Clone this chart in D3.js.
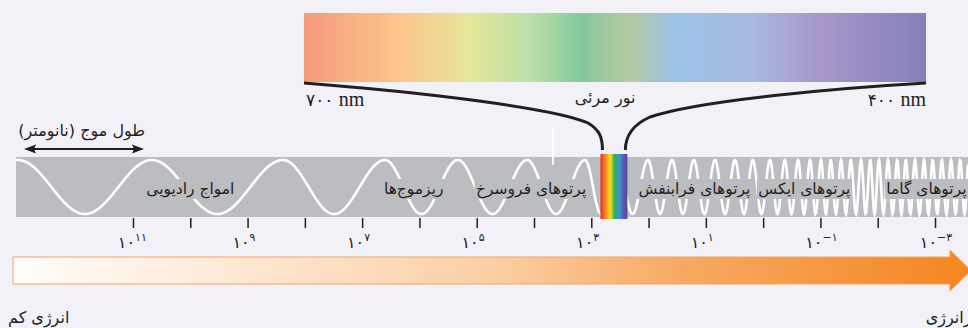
<!DOCTYPE html>
<html>
<head>
<meta charset="utf-8">
<script src="https://cdn.jsdelivr.net/npm/d3@7"></script>
<style>
  body { margin: 0; background: #f2f1f7; }
  svg { display: block; }
  text { font-family: "DejaVu Sans", sans-serif; fill: #231f20; }
</style>
</head>
<body>
<script>
const width = 968,
    height = 328;

// wavelength axis, nm (log scale, one tick per decade)
const domainNm = [1e11, 1e-3];
const tickExps = d3.range(11, -4, -1);
const labelExps = [11, 9, 7, 5, 3, 1, -1, -3];
const faDigits = "۰۱۲۳۴۵۶۷۸۹";

// region names and where their labels sit (log10 of nm)
const bandNames = ["امواج رادیویی", "ریزموج‌ها", "پرتوهای فروسرخ", "پرتوهای فرابنفش", "پرتوهای ایکس", "پرتوهای گاما"];
const bandExps = [10, 6.1, 4.05, 1.2, -0.72, -2.85];

// crests of the white wave (log10 of nm)
const crestExps = [13.01, 10.67, 8.38, 6.6, 5.33, 4.12, 3.11, 2.55, 2.01, 1.59, 1.21, 0.84, 0.49, 0.18,
    -0.12, -0.38, -0.61, -0.82, -1.01, -1.18, -1.36, -1.53, -1.71, -1.87, -2.02, -2.18, -2.34,
    -2.49, -2.65, -2.81, -2.96, -3.12, -3.28, -3.44, -3.59];

const visibleExps = [2.84, 2.37];
const markerExp = 3.67;

const spectrumColors = ["#f59a7c", "#fcc68a", "#e4e79a", "#b8dfa8", "#84c99b", "#b5c9a0", "#9cc3e6", "#a8b9e0", "#a695c8", "#8480bb"];
const spectrumOffsets = [0, 0.154, 0.269, 0.37, 0.445, 0.52, 0.594, 0.72, 0.837, 1];
const rainbowColors = ["#e52b24", "#f26a21", "#f7941d", "#f8e21e", "#8cc63f", "#3fae49", "#2aa7a0", "#4a8fd1", "#4d63b0", "#5b3f98"];
const rainbowOffsets = [0, 0.12, 0.22, 0.36, 0.45, 0.52, 0.6, 0.7, 0.85, 1];
const energyColors = ["#fffdfb", "#fde2c8", "#fbcfa4", "#f7a962", "#f4861f"];
const energyOffsets = [0, 0.3, 0.5, 0.7, 1];

const fa = n => String(n).split("").map(c => c === "-" ? "−" : faDigits[+c]).join("");

const svg = d3.select("body").append("svg")
    .attr("width", width)
    .attr("height", height);

const defs = svg.append("defs");
function gradient(id, colors, offsets) {
  const g = defs.append("linearGradient").attr("id", id);
  colors.forEach((c, i) => g.append("stop").attr("offset", offsets[i]).attr("stop-color", c));
}
gradient("spectrum", spectrumColors, spectrumOffsets);
gradient("rainbow", rainbowColors, rainbowOffsets);
gradient("energy", energyColors, energyOffsets);

const x = d3.scaleLog().domain(domainNm).range([133, 935]);
const xe = e => x(Math.pow(10, e));

// band
const bandTop = 157, bandBottom = 217, mid = 187, amp = 27;
svg.append("rect")
    .attr("x", 16).attr("y", bandTop)
    .attr("width", width - 16).attr("height", bandBottom - bandTop)
    .attr("fill", "#bcbdc0");

// wave
const crestX = crestExps.map(xe);
const phase = d3.scaleLinear().domain(crestX).range(d3.range(crestX.length));
const wavePts = d3.range(16, width + 0.5, 0.5).map(px => [px, mid - amp * Math.cos(2 * Math.PI * phase(px))]);
svg.append("path")
    .attr("d", d3.line()(wavePts))
    .attr("fill", "none")
    .attr("stroke", "#fff")
    .attr("stroke-width", 2.6);

// marker line
svg.append("line")
    .attr("x1", xe(markerExp)).attr("x2", xe(markerExp))
    .attr("y1", 127).attr("y2", 165)
    .attr("stroke", "#fff").attr("stroke-width", 2);

// region labels with knockout
const labelG = svg.append("g");
bandNames.forEach((name, i) => {
  const t = labelG.append("text")
      .attr("x", xe(bandExps[i]))
      .attr("y", 194)
      .attr("text-anchor", "middle")
      .style("direction", "rtl")
      .attr("font-size", 15.5)
      .text(name);
  const b = t.node().getBBox();
  labelG.insert("rect", () => t.node())
      .attr("x", b.x - 1.5).attr("y", 179)
      .attr("width", b.width + 3).attr("height", 20)
      .attr("fill", "#bcbdc0");
});

// visible light strip
const v0 = xe(visibleExps[0]), v1 = xe(visibleExps[1]);
svg.append("rect")
    .attr("x", v0).attr("y", 154)
    .attr("width", v1 - v0).attr("height", 65)
    .attr("fill", "url(#rainbow)");

// top spectrum
svg.append("rect")
    .attr("x", 304).attr("y", 13)
    .attr("width", 622).attr("height", 69)
    .attr("fill", "url(#spectrum)");

svg.append("path")
    .attr("d", `M304,83 C420,92 555,108 588,123 C600,130 ${v0 + 2},138 ${v0 + 2},150`)
    .attr("fill", "none").attr("stroke", "#231f20").attr("stroke-width", 3);
svg.append("path")
    .attr("d", `M${v1 - 2},150 C${v1 - 2},136 632,125 650,117 C700,100 840,88 926,83`)
    .attr("fill", "none").attr("stroke", "#231f20").attr("stroke-width", 3);

svg.append("text")
    .attr("x", 605).attr("y", 103)
    .attr("text-anchor", "middle")
    .style("direction", "rtl")
    .attr("font-size", 16)
    .text("نور مرئی");

const nmLabel = (px, anchor, num) => {
  const t = svg.append("text")
      .attr("x", px).attr("y", 106)
      .attr("text-anchor", anchor);
  t.append("tspan").attr("font-size", 17).text(fa(num) + " ");
  t.append("tspan").attr("font-family", "Liberation Serif").attr("font-size", 20).text("nm");
};
nmLabel(306, "start", 700);
nmLabel(926, "end", 400);

// wavelength caption + double arrow
svg.append("text")
    .attr("x", 145).attr("y", 136)
    .attr("text-anchor", "start")
    .style("direction", "rtl")
    .attr("font-size", 16)
    .text("طول موج (نانومتر)");
svg.append("line")
    .attr("x1", 32).attr("x2", 136)
    .attr("y1", 149).attr("y2", 149)
    .attr("stroke", "#231f20").attr("stroke-width", 2);
svg.append("path").attr("d", "M24,149 L36,144.5 L34,149 L36,153.5 Z").attr("fill", "#231f20");
svg.append("path").attr("d", "M144,149 L132,144.5 L134,149 L132,153.5 Z").attr("fill", "#231f20");

// ticks
const axis = d3.axisBottom(x)
    .tickValues(tickExps.map(e => Math.pow(10, e)))
    .tickSize(10)
    .tickFormat("");
const axisG = svg.append("g")
    .attr("transform", `translate(0,${bandBottom + 1})`)
    .call(axis);
axisG.select(".domain").remove();
axisG.selectAll(".tick line").attr("stroke", "#231f20").attr("stroke-width", 1.5);

labelExps.forEach(e => {
  const px = xe(e);
  svg.append("text")
      .attr("x", px + 2).attr("y", 248)
      .attr("text-anchor", "end")
      .attr("font-size", 16)
      .text("۱۰");
  svg.append("text")
      .attr("x", px + 2).attr("y", 241)
      .attr("text-anchor", "start")
      .attr("font-size", 11)
      .text(fa(e));
});

// energy arrow
svg.append("path")
    .attr("d", "M13,257 H950 V250 L971,270.5 L950,291 V284 H13 Z")
    .attr("fill", "url(#energy)")
    .attr("stroke", "#f4a361").attr("stroke-width", 1);

svg.append("text")
    .attr("x", 8).attr("y", 323)
    .attr("text-anchor", "end")
    .style("direction", "rtl")
    .attr("font-size", 16)
    .text("انرژی کم");
svg.append("text")
    .attr("x", 977).attr("y", 323)
    .attr("text-anchor", "start")
    .style("direction", "rtl")
    .attr("font-size", 16)
    .text("پرانرژی");
</script>
</body>
</html>
